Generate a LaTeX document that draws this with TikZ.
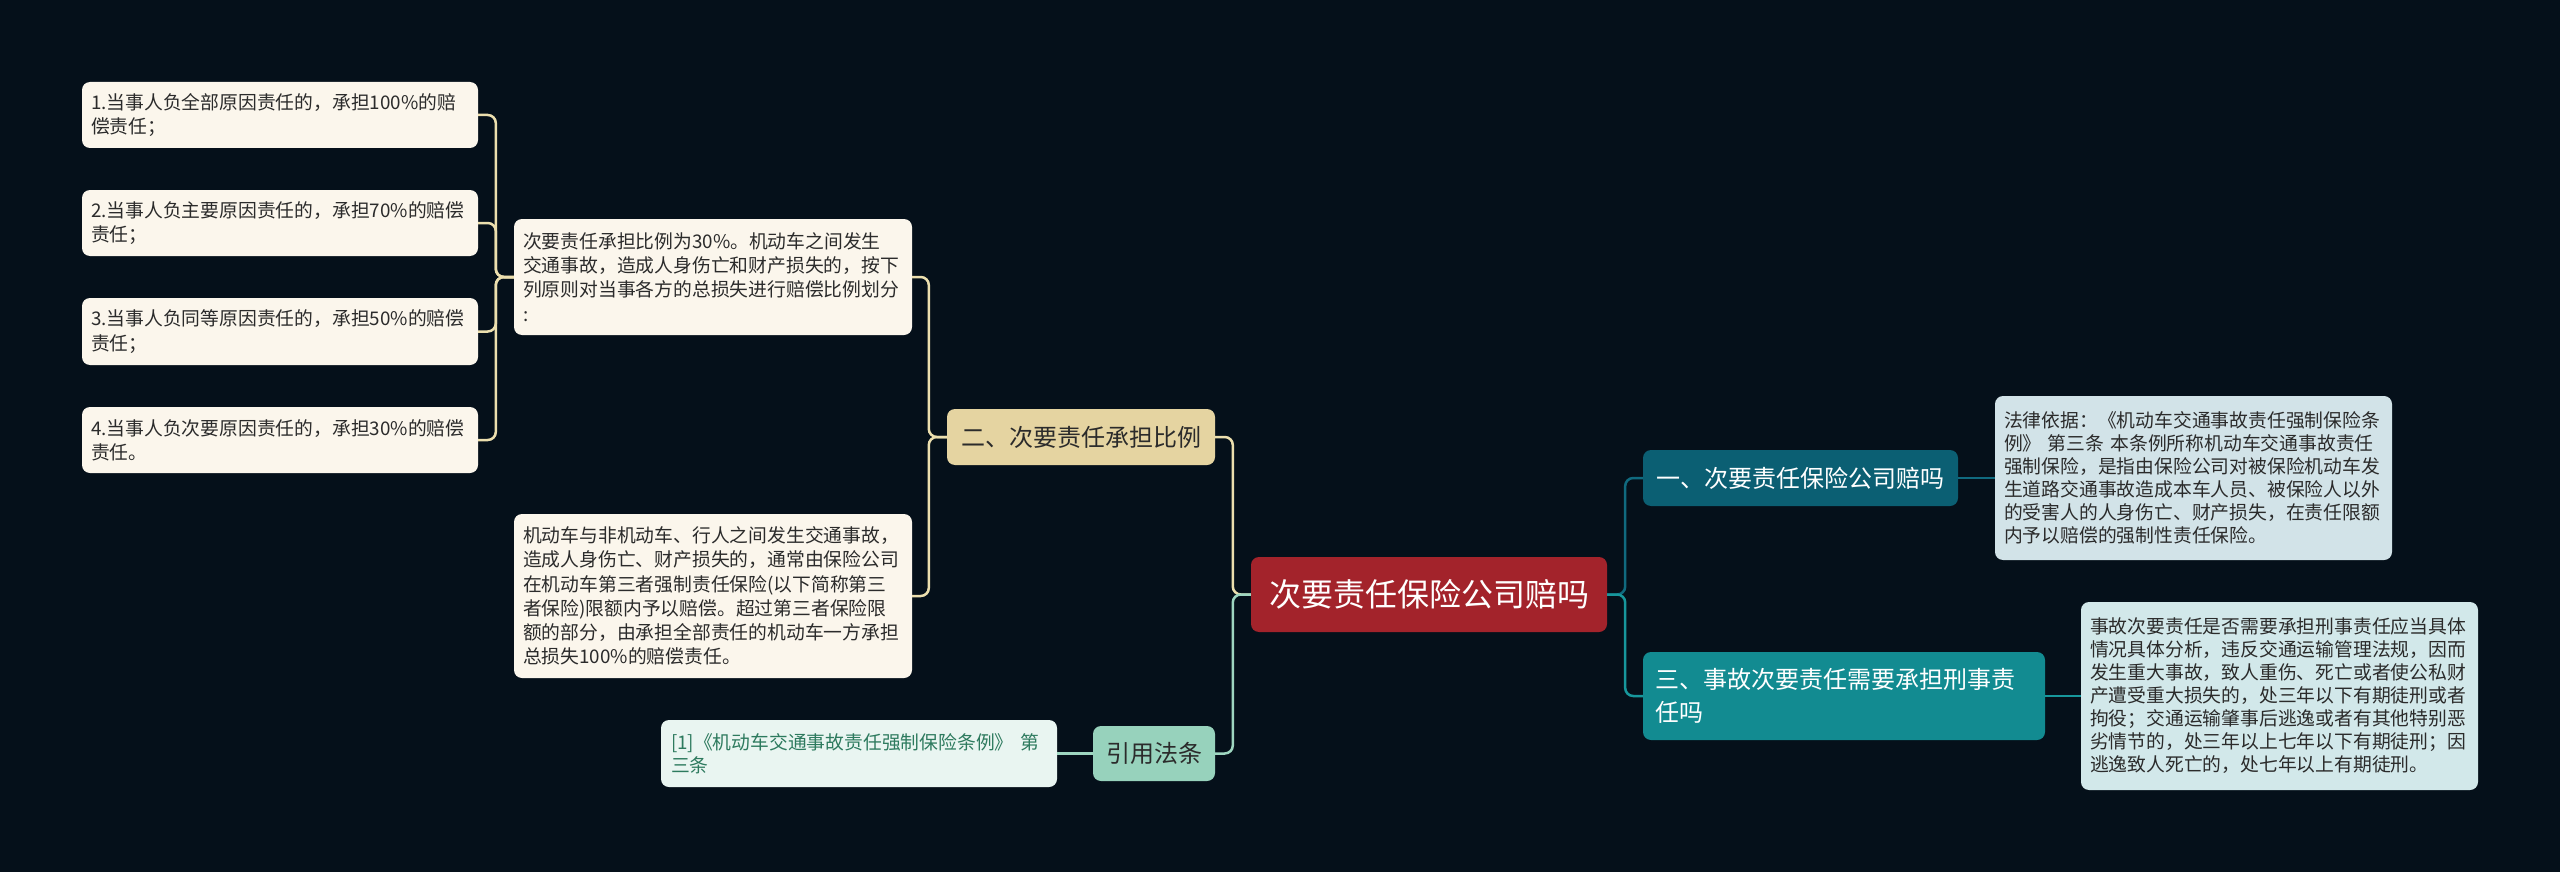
\documentclass[tikz,border=0pt]{standalone}
\usepackage{fontspec}
\setmainfont{Noto Sans CJK SC}
\usetikzlibrary{calc}
\definecolor{bgc}{HTML}{05101A}
\definecolor{centerc}{HTML}{A3232B}
\definecolor{ylwfill}{HTML}{E5D4A1}
\definecolor{ylwline}{HTML}{ECDFAE}
\definecolor{leaffill}{HTML}{FBF6EC}
\definecolor{mintfill}{HTML}{97D2BC}
\definecolor{mintline}{HTML}{9ED6C0}
\definecolor{reffill}{HTML}{E9F5F1}
\definecolor{reftext}{HTML}{2D7A5E}
\definecolor{onefill}{HTML}{0B5F73}
\definecolor{oneline}{HTML}{106A7F}
\definecolor{threefill}{HTML}{128B91}
\definecolor{threeline}{HTML}{17979C}
\definecolor{rfill}{HTML}{D2E3E8}
\definecolor{rfillb}{HTML}{D2E8EA}
\definecolor{darktext}{HTML}{2B2B2B}
\begin{document}
\begin{tikzpicture}[x=1pt,y=-1pt,
  box/.style={rounded corners=8pt, inner ysep=0pt, align=left},
  leaf/.style={box, fill=leaffill, text=darktext, inner xsep=9pt, text width=378pt,
    font=\fontsize{18.8}{24.2}\selectfont},
  rleaf/.style={box, fill=rfill, text=darktext, inner xsep=9pt, text width=379pt,
    font=\fontsize{18.8}{23}\selectfont},
  edge/.style={line width=2.5pt, rounded corners=8pt}]
\fill[bgc] (0,0) rectangle (2560,872);
\useasboundingbox (0,0) rectangle (2560,872);

% center
\node[box, align=center, fill=centerc, text=white, minimum width=356pt, minimum height=75pt,
  font=\fontsize{32}{36}\selectfont] (C) at (1429,594.5) {次要责任保险公司赔吗};

% left branch
\node[box, align=center, fill=ylwfill, text=darktext, minimum width=268pt, minimum height=56pt,
  font=\fontsize{24}{28}\selectfont] (B2) at (1081,437) {二、次要责任承担比例};
\node[leaf, text width=380pt, minimum height=116pt] (T1) at (713,277)
  {次要责任承担比例为30\%。机动车之间发生\\交通事故，造成人身伤亡和财产损失的，按下\\列原则对当事各方的总损失进行赔偿比例划分\\:};
\node[leaf, text width=380pt, minimum height=164pt] (T2) at (713,596)
  {机动车与非机动车、行人之间发生交通事故，\\造成人身伤亡、财产损失的，通常由保险公司\\在机动车第三者强制责任保险(以下简称第三\\者保险)限额内予以赔偿。超过第三者保险限\\额的部分，由承担全部责任的机动车一方承担\\总损失100\%的赔偿责任。};
\node[leaf, minimum height=66pt] (L1) at (280,115) {1.当事人负全部原因责任的，承担100\%的赔\\偿责任；};
\node[leaf, minimum height=66pt] (L2) at (280,223) {2.当事人负主要原因责任的，承担70\%的赔偿\\责任；};
\node[leaf, minimum height=67pt] (L3) at (280,331.5) {3.当事人负同等原因责任的，承担50\%的赔偿\\责任；};
\node[leaf, minimum height=66pt] (L4) at (280,440) {4.当事人负次要原因责任的，承担30\%的赔偿\\责任。};

\node[box, align=center, fill=mintfill, text=darktext, minimum width=122pt, minimum height=55pt,
  font=\fontsize{24}{28}\selectfont] (Cite) at (1154,753.5) {引用法条};
\node[box, fill=reffill, text=reftext, inner xsep=10pt, text width=376pt, minimum height=67pt,
  font=\fontsize{18.8}{23}\selectfont] (Ref) at (859,753.5)
  {[1]《机动车交通事故责任强制保险条例》 第\\三条};

% right branch
\node[box, align=center, fill=onefill, text=white, minimum width=315pt, minimum height=56pt,
  font=\fontsize{24}{28}\selectfont] (B1) at (1800.5,478) {一、次要责任保险公司赔吗};
\node[box, fill=threefill, text=white, inner xsep=12pt, text width=378pt, minimum height=88pt,
  font=\fontsize{24}{33}\selectfont] (B3) at (1844,696) {三、事故次要责任需要承担刑事责\\任吗};
\node[rleaf, minimum height=164pt] (R1) at (2193.5,478)
  {法律依据：《机动车交通事故责任强制保险条\\例》 第三条 本条例所称机动车交通事故责任\\强制保险，是指由保险公司对被保险机动车发\\生道路交通事故造成本车人员、被保险人以外\\的受害人的人身伤亡、财产损失，在责任限额\\内予以赔偿的强制性责任保险。};
\node[rleaf, fill=rfillb, minimum height=188pt] (R2) at (2279.5,696)
  {事故次要责任是否需要承担刑事责任应当具体\\情况具体分析，违反交通运输管理法规，因而\\发生重大事故，致人重伤、死亡或者使公私财\\产遭受重大损失的，处三年以下有期徒刑或者\\拘役；交通运输肇事后逃逸或者有其他特别恶\\劣情节的，处三年以上七年以下有期徒刑；因\\逃逸致人死亡的，处七年以上有期徒刑。};

% connectors
\draw[edge, ylwline] (C.west) -- ++(-18,0) |- (B2.east);
\draw[edge, mintline] (C.west) -- ++(-18,0) |- (Cite.east);
\draw[edge, ylwline] (B2.west) -- ++(-18,0) |- (T1.east);
\draw[edge, ylwline] (B2.west) -- ++(-18,0) |- (T2.east);
\foreach \n in {L1,L2,L3,L4}
  \draw[edge, ylwline] (T1.west) -- ++(-18,0) |- (\n.east);
\draw[edge, mintline] (Cite.west) -- (Ref.east);
\draw[edge, oneline] (C.east) -- ++(18,0) |- (B1.west);
\draw[edge, threeline] (C.east) -- ++(18,0) |- (B3.west);
\draw[edge, oneline] (B1.east) -- (R1.west);
\draw[edge, threeline] (B3.east) -- (R2.west);
\end{tikzpicture}
\end{document}
